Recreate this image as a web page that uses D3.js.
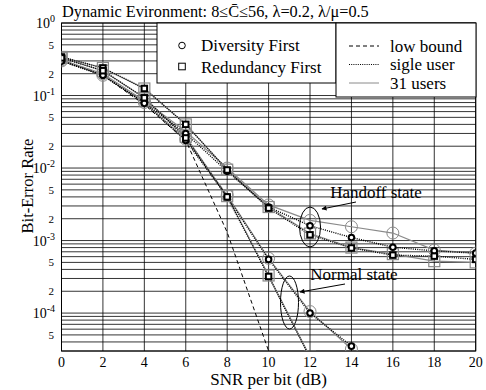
<!DOCTYPE html>
<html>
<head>
<meta charset="utf-8">
<script src="https://cdn.jsdelivr.net/npm/d3@7/dist/d3.min.js"></script>
<style>
  html, body { margin: 0; padding: 0; background: #fff; }
  svg { display: block; font-family: "Liberation Serif", "Times New Roman", serif; }
</style>
</head>
<body>
<svg id="chart" width="486" height="390"></svg>
<script>
// SNR grid (dB)
const snr = [0, 2, 4, 6, 8, 10, 12, 14, 16, 18, 20];

// Handoff state
const dfSingleHandoff = [0.30, 0.19, 0.080, 0.030, 9.0e-3, 2.9e-3, 1.6e-3, 1.1e-3, 8.1e-4, 7.2e-4, 6.7e-4];
const df31Handoff     = [0.31, 0.20, 0.085, 0.032, 1.0e-2, 3.1e-3, 1.9e-3, 1.55e-3, 1.27e-3, 7.4e-4, 6.7e-4];
const rfSingleHandoff = [0.34, 0.24, 0.125, 0.040, 9.4e-3, 2.8e-3, 1.2e-3, 7.9e-4, 6.3e-4, 6.1e-4, 5.5e-4];
const rf31Handoff     = [0.34, 0.24, 0.125, 0.040, 9.5e-3, 2.9e-3, 1.25e-3, 8.0e-4, 6.5e-4, 5.2e-4, 5.0e-4];

// Normal state
const dfSingleNormal = [0.30, 0.19, 0.078, 0.024, 4.0e-3, 5.5e-4, 1.0e-4, 3.5e-5];
const df31Normal     = [0.30, 0.19, 0.080, 0.025, 4.2e-3, 5.7e-4, 1.05e-4, 3.2e-5];
const rfSingleNormal = [0.33, 0.22, 0.093, 0.026, 4.0e-3, 3.2e-4, 2.4e-5];
const rf31Normal     = [0.33, 0.22, 0.093, 0.027, 4.1e-3, 3.3e-4, 2.5e-5];

// Lower bound
const lowBound = [0.31, 0.19, 0.075, 0.024, 1.3e-3, 3.0e-5];

const yDecades = [1, 1e-1, 1e-2, 1e-3, 1e-4];
const yDecadeExp = ["0", "-1", "-2", "-3", "-4"];
const xTicks = [0, 2, 4, 6, 8, 10, 12, 14, 16, 18, 20];

const svg = d3.select("#chart");
const pLeft = 61.5, pRight = 475.7, pTop = 23, pBottom = 351;
const x = d3.scaleLinear().domain([0, 20]).range([pLeft, pRight]);
const y = d3.scaleLog().domain([3e-5, 1]).range([pBottom, pTop]);
const GRAY = "#8a8a8a";

const defs = svg.append("defs");
defs.append("clipPath").attr("id", "plotClip")
  .append("rect").attr("x", pLeft).attr("y", pTop).attr("width", pRight - pLeft).attr("height", pBottom - pTop);

// minor + major horizontal grid
const hVals = [];
for (let e = -5; e <= 0; e++) {
  for (let m = 1; m <= 9; m++) {
    const v = m * Math.pow(10, e);
    if (v >= 3e-5 - 1e-12 && v <= 1 + 1e-12) hVals.push(v);
  }
}
const grid = svg.append("g").attr("stroke", "#000").attr("stroke-width", 0.8);
grid.selectAll("line.h").data(hVals).join("line").attr("class", "h")
  .attr("x1", pLeft).attr("x2", pRight)
  .attr("y1", d => y(d)).attr("y2", d => y(d));
grid.selectAll("line.v").data(xTicks).join("line").attr("class", "v")
  .attr("x1", d => x(d)).attr("x2", d => x(d))
  .attr("y1", pTop).attr("y2", pBottom);
svg.append("rect").attr("x", pLeft).attr("y", pTop).attr("width", pRight - pLeft).attr("height", pBottom - pTop)
  .attr("fill", "none").attr("stroke", "#000").attr("stroke-width", 1);

// y tick labels
const yl = svg.append("g").attr("fill", "#000");
yDecades.forEach((v, i) => {
  const t = yl.append("text").attr("x", 55).attr("y", y(v) + 5).attr("text-anchor", "end")
    .attr("font-size", 14);
  t.append("tspan").text("10");
  t.append("tspan").attr("dy", -6).attr("font-size", 10).text(yDecadeExp[i]);
});
const minorLabels = [];
for (let e = -5; e <= -1; e++) {
  [5, 2].forEach(m => { const v = m * Math.pow(10, e); if (v >= 3e-5) minorLabels.push(v); });
}
yl.selectAll("text.minor").data(minorLabels).join("text")
  .attr("class", "minor").attr("x", 54).attr("y", d => y(d) + 4)
  .attr("text-anchor", "end").attr("font-size", 11)
  .text(d => String(Math.round(d / Math.pow(10, Math.floor(Math.log10(d) + 1e-9)))));

// x tick labels
svg.append("g").selectAll("text").data(xTicks).join("text")
  .attr("x", d => x(d)).attr("y", 366.5).attr("text-anchor", "middle").attr("font-size", 14)
  .text(d => d);

// axis titles
svg.append("text").attr("x", x(10)).attr("y", 385).attr("text-anchor", "middle")
  .attr("font-size", 17).text("SNR per bit (dB)");
svg.append("text").attr("transform", "translate(33,186) rotate(-90)").attr("text-anchor", "middle")
  .attr("font-size", 16.5).text("Bit-Error Rate");

// title
svg.append("text").attr("x", 62).attr("y", 17).attr("font-size", 16.3)
  .text("Dynamic Evironment: 8\u2264C\u0304\u226456, \u03bb=0.2, \u03bb/\u03bc=0.5");

// curves
const plot = svg.append("g").attr("clip-path", "url(#plotClip)");
const line = d3.line().x((d, i) => x(snr[i])).y(d => y(d));

function drawSeries(vals, opts) {
  plot.append("path").datum(vals).attr("d", line)
    .attr("fill", "none").attr("stroke", opts.stroke).attr("stroke-width", opts.width)
    .attr("stroke-dasharray", opts.dash || null);
}
function drawMarkers(vals, shape, big) {
  const g = plot.append("g");
  const pts = vals.map((v, i) => [x(snr[i]), y(v)]);
  if (shape === "circle") {
    g.selectAll("circle").data(pts).join("circle")
      .attr("cx", d => d[0]).attr("cy", d => d[1]).attr("r", big ? 6 : 2.8)
      .attr("fill", big ? "none" : "#fff")
      .attr("stroke", big ? GRAY : "#000").attr("stroke-width", big ? 1 : 2);
  } else {
    const s = big ? 11 : 5.5;
    g.selectAll("rect").data(pts).join("rect")
      .attr("x", d => d[0] - s / 2).attr("y", d => d[1] - s / 2).attr("width", s).attr("height", s)
      .attr("fill", big ? "none" : "#fff")
      .attr("stroke", big ? GRAY : "#000").attr("stroke-width", big ? 1.2 : 2);
  }
}

// lower bound
drawSeries(lowBound, { stroke: "#000", width: 1, dash: "4,3" });

// 31-user curves (gray solid)
[df31Handoff, df31Normal, rf31Handoff, rf31Normal].forEach(s => drawSeries(s, { stroke: GRAY, width: 1.2 }));
// single-user curves (black dotted)
[dfSingleHandoff, dfSingleNormal, rfSingleHandoff, rfSingleNormal].forEach(s => drawSeries(s, { stroke: "#000", width: 1.4, dash: "1,1.2" }));

drawMarkers(df31Handoff, "circle", true);
drawMarkers(df31Normal, "circle", true);
drawMarkers(rf31Handoff, "square", true);
drawMarkers(rf31Normal, "square", true);
drawMarkers(dfSingleHandoff, "circle", false);
drawMarkers(dfSingleNormal, "circle", false);
drawMarkers(rfSingleHandoff, "square", false);
drawMarkers(rfSingleNormal, "square", false);

// annotations
const ann = svg.append("g");
defs.append("marker").attr("id", "arrowHead").attr("viewBox", "0 0 10 10")
  .attr("refX", 9).attr("refY", 5).attr("markerWidth", 7).attr("markerHeight", 5)
  .attr("orient", "auto").append("path").attr("d", "M0,0 L10,5 L0,10 z").attr("fill", "#000");

ann.append("ellipse").attr("cx", x(12)).attr("cy", 227).attr("rx", 10.5).attr("ry", 20)
  .attr("fill", "none").attr("stroke", "#000").attr("stroke-width", 1);
ann.append("line").attr("x1", 356).attr("y1", 202).attr("x2", 322).attr("y2", 209)
  .attr("stroke", "#000").attr("stroke-width", 1).attr("marker-end", "url(#arrowHead)");
ann.append("text").attr("x", 376).attr("y", 198).attr("text-anchor", "middle").attr("font-size", 17)
  .text("Handoff state");

ann.append("ellipse").attr("cx", 289.5).attr("cy", 302.5).attr("rx", 9).attr("ry", 26.5)
  .attr("fill", "none").attr("stroke", "#000").attr("stroke-width", 1);
ann.append("line").attr("x1", 345).attr("y1", 284).attr("x2", 300).attr("y2", 292)
  .attr("stroke", "#000").attr("stroke-width", 1).attr("marker-end", "url(#arrowHead)");
ann.append("text").attr("x", 354).attr("y", 280).attr("text-anchor", "middle").attr("font-size", 17)
  .text("Normal state");

// legends
const lg = svg.append("g");
lg.append("rect").attr("x", 157).attr("y", 23).attr("width", 179).attr("height", 60)
  .attr("fill", "#fff").attr("stroke", "#000").attr("stroke-width", 1);
lg.append("circle").attr("cx", 182).attr("cy", 45.5).attr("r", 3.3)
  .attr("fill", "none").attr("stroke", "#000").attr("stroke-width", 1);
lg.append("rect").attr("x", 178.7).attr("y", 63.2).attr("width", 6.6).attr("height", 6.6)
  .attr("fill", "none").attr("stroke", "#000").attr("stroke-width", 1);
lg.append("text").attr("x", 201).attr("y", 50.5).attr("font-size", 17).text("Diversity First");
lg.append("text").attr("x", 201).attr("y", 72.5).attr("font-size", 17).text("Redundancy First");

lg.append("rect").attr("x", 336).attr("y", 23).attr("width", 140).attr("height", 74)
  .attr("fill", "#fff").attr("stroke", "#000").attr("stroke-width", 1);
const legLines = [
  { label: "low bound", stroke: "#000", dash: "4,3", w: 1, base: 51.5 },
  { label: "sigle user", stroke: "#000", dash: "1,1.2", w: 1.2, base: 70 },
  { label: "31 users", stroke: GRAY, dash: null, w: 1, base: 88.5 }
];
legLines.forEach(d => {
  lg.append("line").attr("x1", 349).attr("x2", 379).attr("y1", d.base - 5.5).attr("y2", d.base - 5.5)
    .attr("stroke", d.stroke).attr("stroke-width", d.w).attr("stroke-dasharray", d.dash);
  lg.append("text").attr("x", 390).attr("y", d.base).attr("font-size", 17).text(d.label);
});
</script>
</body>
</html>
